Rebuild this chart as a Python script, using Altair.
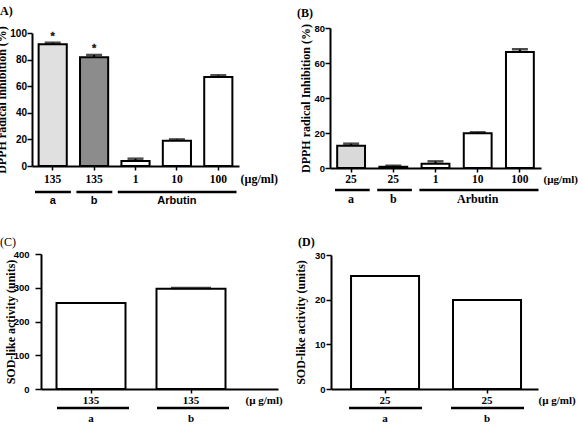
import altair as alt
import pandas as pd

SERIF = "Liberation Serif"
SANS = "Liberation Sans"
FULL_H = 425

# ---- (A) DPPH radical inhibition: extracts at 135 ug/ml and arbutin ----
a_keys = ["135|a", "135|b", "1|Arbutin", "10|Arbutin", "100|Arbutin"]
a_values = [91.5, 81.7, 3.8, 19.0, 66.9]
a_errors = [1.2, 1.8, 1.7, 1.0, 1.3]
a_fills = ["#e0e0e0", "#8c8c8c", "#ffffff", "#ffffff", "#ffffff"]
a_signif = ["*", "*", "", "", ""]
a_groups = ["a", "b", "Arbutin"]
a_group_first = ["135|a", "135|b", "1|Arbutin"]
a_group_last = ["135|a", "135|b", "100|Arbutin"]
a_group_mid = ["135|a", "135|b", "10|Arbutin"]

# ---- (B) DPPH radical inhibition: extracts at 25 ug/ml and arbutin ----
b_keys = ["25|a", "25|b", "1|Arbutin", "10|Arbutin", "100|Arbutin"]
b_values = [12.7, 0.7, 2.5, 19.8, 66.3]
b_errors = [1.2, 0.6, 1.3, 0.6, 1.5]
b_fills = ["#d9d9d9", "#ffffff", "#ffffff", "#ffffff", "#ffffff"]
b_signif = ["", "", "", "", ""]
b_groups = ["a", "b", "Arbutin"]
b_group_first = ["25|a", "25|b", "1|Arbutin"]
b_group_last = ["25|a", "25|b", "100|Arbutin"]
b_group_mid = ["25|a", "25|b", "10|Arbutin"]

# ---- (C) SOD-like activity at 135 ug/ml ----
c_keys = ["135|a", "135|b"]
c_values = [255, 297]
c_errors = [0, 2.5]
c_fills = ["#ffffff", "#ffffff"]
c_signif = ["", ""]
c_groups = ["a", "b"]
c_group_first = ["135|a", "135|b"]
c_group_last = ["135|a", "135|b"]
c_group_mid = ["135|a", "135|b"]

# ---- (D) SOD-like activity at 25 ug/ml ----
d_keys = ["25|a", "25|b"]
d_values = [25.3, 19.9]
d_errors = [0, 0]
d_fills = ["#ffffff", "#ffffff"]
d_signif = ["", ""]
d_groups = ["a", "b"]
d_group_first = ["25|a", "25|b"]
d_group_last = ["25|a", "25|b"]
d_group_mid = ["25|a", "25|b"]


def panel(keys, values, errors, fills, signif, groups, g_first, g_last, g_mid,
          tag, tag_pos, tag_weight, y_title, y_title_x, y_max, y_step,
          unit, unit_x, unit_size, x_range, y_range, pad_outer, align,
          bar_band, cap_size, label_gap, group_y, group_label_y, group_font,
          group_size, inset, tick_label_size, y_tick, y_pad, y_label_size):
    """Return the list of layers that make up one panel."""
    x0, x1 = x_range
    y0, y1 = y_range

    df = pd.DataFrame({"key": keys, "value": values, "err": errors,
                       "fill": fills, "sig": signif})
    df["top"] = df["value"] + df["err"]
    err_df = df[df["err"] > 0]
    sig_df = df[df["sig"] != ""]
    gdf = pd.DataFrame({"group": groups, "first": g_first,
                        "last": g_last, "mid": g_mid})

    def xscale():
        return alt.Scale(type="band", domain=keys, range=[x0, x1],
                         paddingInner=0, paddingOuter=pad_outer, align=align)

    def yscale():
        return alt.Scale(domain=[0, y_max], range=[y0, y1], nice=False, zero=True)

    x_axis = alt.Axis(
        orient="bottom", offset=y0 - FULL_H, grid=False,
        labelExpr="split(datum.label, '|')[0]", labelAngle=0,
        labelFont=SERIF, labelFontWeight="bold", labelFontSize=tick_label_size,
        labelColor="black", labelBaseline="alphabetic", labelPadding=label_gap,
        tickSize=4, tickWidth=1.5, tickColor="black",
        domainColor="black", domainWidth=2,
        title=unit, titleX=unit_x, titleY=label_gap + 4,
        titleAlign="left", titleBaseline="alphabetic", titleFont=SERIF,
        titleFontWeight="bold", titleFontSize=unit_size, titleColor="black",
    )
    y_axis = alt.Axis(
        orient="left", offset=-x0, grid=False,
        values=list(range(0, y_max + 1, y_step)),
        labelFont=SANS, labelFontWeight="bold", labelFontSize=y_label_size,
        labelColor="black", labelPadding=y_pad,
        tickSize=y_tick, tickWidth=1.5, tickColor="black",
        domainColor="black", domainWidth=2,
        title=y_title, titleX=y_title_x - x0, titleY=(y0 + y1) / 2,
        titleAngle=270, titleAlign="center", titleBaseline="alphabetic",
        titleFont=SERIF, titleFontWeight="bold", titleFontSize=12,
        titleColor="black",
    )

    bars = alt.Chart(df).mark_bar(
        stroke="black", strokeWidth=2, width=alt.RelativeBandSize(bar_band)
    ).encode(
        x=alt.X("key:N", scale=xscale(), axis=x_axis),
        y=alt.Y("value:Q", scale=yscale(), axis=y_axis),
        fill=alt.Fill("fill:N", scale=None),
    )
    layers = [bars]

    if len(err_df):
        stems = alt.Chart(err_df).mark_rule(color="black", strokeWidth=2).encode(
            x=alt.X("key:N", scale=xscale(), axis=None),
            y=alt.Y("value:Q", scale=yscale(), axis=None),
            y2="top:Q",
        )
        caps = alt.Chart(err_df).mark_tick(
            color="black", thickness=2.5, size=cap_size, orient="horizontal"
        ).encode(
            x=alt.X("key:N", scale=xscale(), axis=None),
            y=alt.Y("top:Q", scale=yscale(), axis=None),
        )
        layers += [stems, caps]

    if len(sig_df):
        stars = alt.Chart(sig_df).mark_text(
            font=SANS, fontWeight="bold", fontSize=11, baseline="alphabetic",
            dy=-3, fill="#111111", stroke="#111111", strokeWidth=0.3
        ).encode(
            x=alt.X("key:N", scale=xscale(), axis=None),
            y=alt.Y("top:Q", scale=yscale(), axis=None),
            text="sig:N",
        )
        layers.append(stars)

    brackets = alt.Chart(gdf).mark_rule(
        color="black", strokeWidth=2.5, xOffset=inset[0], x2Offset=inset[1]
    ).encode(
        x=alt.X("first:N", scale=xscale(), bandPosition=0, axis=None),
        x2=alt.X2("last:N", bandPosition=1),
        y=alt.value(group_y),
    )
    group_text = alt.Chart(gdf).mark_text(
        font=group_font, fontWeight="bold", fontSize=group_size,
        baseline="alphabetic", fill="black"
    ).encode(
        x=alt.X("mid:N", scale=xscale(), axis=None),
        y=alt.value(group_label_y),
        text="group:N",
    )
    label = alt.Chart(pd.DataFrame({"tag": [tag]})).mark_text(
        font=SERIF, fontWeight=tag_weight, fontSize=12, align="left",
        baseline="alphabetic", fill="black"
    ).encode(
        x=alt.value(tag_pos[0]), y=alt.value(tag_pos[1]), text="tag:N"
    )
    layers += [brackets, group_text, label]
    return layers


layers = []
layers += panel(a_keys, a_values, a_errors, a_fills, a_signif, a_groups,
                a_group_first, a_group_last, a_group_mid,
                "(A)", (-4, 15), "bold", "DPPH radical inhibition (%)", 5, 100, 20,
                "(\u00b5g/ml)", 240, 12, (32, 239), (166, 33), 0, 0.5,
                0.68, 16, 12, 192, 204, SANS, 11, (3, -2.5), 11.5,
                5, 0.5, 10)
layers += panel(b_keys, b_values, b_errors, b_fills, b_signif, b_groups,
                b_group_first, b_group_last, b_group_mid,
                "(B)", (297, 17), "bold", "DPPH radical Inhibition (%)", 309, 80, 20,
                "(\u00b5g/ml)", 543, 11, (330, 541), (168, 28), 0, 0.5,
                0.66, 16, 10, 190, 203, SERIF, 12, (5, -2.5), 11.5,
                5, 0.5, 9.5)
layers += panel(c_keys, c_values, c_errors, c_fills, c_signif, c_groups,
                c_group_first, c_group_last, c_group_mid,
                "(C)", (0, 246), "normal", "SOD-like activity (units)", 14, 400, 100,
                "(\u00b5 g/ml)", 245, 11, (41, 278), (389, 254), 0.185, 0,
                0.69, 40, 10, 408, 422, SERIF, 11, (16, -12), 11,
                6, 6, 9.5)
layers += panel(d_keys, d_values, d_errors, d_fills, d_signif, d_groups,
                d_group_first, d_group_last, d_group_mid,
                "(D)", (298, 246), "bold", "SOD-like activity (units)", 304, 30, 10,
                "(\u00b5 g/ml)", 538, 11, (331, 538), (389, 255), 0.015, 1,
                0.667, 40, 10, 408, 422, SERIF, 11, (15, -14), 11,
                5, 1, 9.5)

chart = alt.layer(*layers).resolve_scale(
    x="independent", y="independent"
).resolve_axis(
    x="independent", y="independent"
).properties(
    width=582, height=FULL_H, padding=0,
    autosize=alt.AutoSizeParams(type="none"),
    background="white",
).configure_view(strokeWidth=0)

chart.save("out.html", embed_options={"renderer": "svg", "actions": False})
